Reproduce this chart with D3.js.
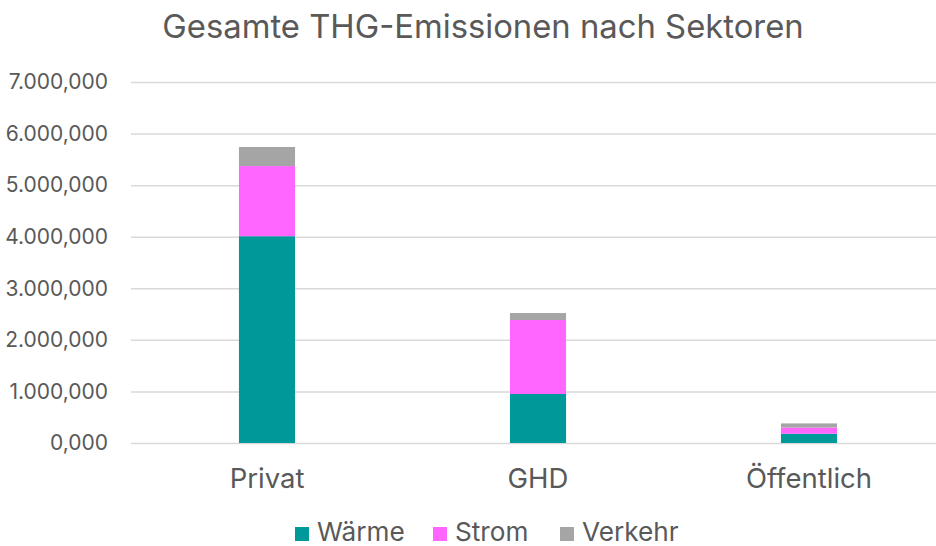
<!DOCTYPE html>
<html><head><meta charset="utf-8">
<script src="https://cdn.jsdelivr.net/npm/d3@7"></script>
<style>body{margin:0;background:#fff;} svg{display:block;}</style>
</head><body>
<svg id="c" width="936" height="546"></svg>
<script>
const categories = ["Privat", "GHD", "Öffentlich"];
const seriesNames = ["Wärme", "Strom", "Verkehr"];
const waerme = [4010, 950, 180];
const strom = [1360, 1435, 120];
const verkehr = [370, 135, 80];
const yTicks = [0, 1000, 2000, 3000, 4000, 5000, 6000, 7000];
const colors = ["#009999", "#FF66FF", "#A5A5A5"];
const title = "Gesamte THG-Emissionen nach Sektoren";

const font = "Inter, 'Noto Sans', sans-serif";
const textColor = "#595959";
const svg = d3.select("#c");
const W = 936, H = 546;
const x = d3.scaleBand().domain(categories).range([131.5, 944.5]).paddingInner(0.793).paddingOuter(0.3965);
const y = d3.scaleLinear().domain([0, 7000]).range([443, 82]);

const fmt = v => d3.format(",.3f")(v).replace(/,/g, "#").replace(/\./g, ",").replace(/#/g, ".");

svg.append("text").attr("x", 483).attr("y", 38).attr("text-anchor", "middle")
  .attr("font-family", font).attr("font-size", 32.8).attr("fill", textColor).text(title);

const yAxis = d3.axisLeft(y).tickValues(yTicks).tickSize(-(W - 131)).tickFormat(fmt).tickPadding(23);
const ga = svg.append("g").attr("transform", "translate(131,0)").call(yAxis);
ga.select(".domain").remove();
ga.selectAll(".tick line").attr("stroke", "#D9D9D9").attr("stroke-width", 1.5);
ga.selectAll(".tick text").attr("font-family", font).attr("font-size", 21).attr("fill", textColor);

const data = categories.map((c, i) => ({cat: c, "Wärme": waerme[i], "Strom": strom[i], "Verkehr": verkehr[i]}));
const stacked = d3.stack().keys(seriesNames)(data);
svg.append("g").selectAll("g").data(stacked).join("g").attr("fill", (d, i) => colors[i])
  .selectAll("rect").data(d => d).join("rect")
  .attr("x", d => x(d.data.cat)).attr("width", x.bandwidth())
  .attr("y", d => y(d[1])).attr("height", d => y(d[0]) - y(d[1]));

const xAxis = d3.axisBottom(x).tickSize(0).tickPadding(0);
const gx = svg.append("g").attr("transform", "translate(0,443)").call(xAxis);
gx.select(".domain").remove();
gx.selectAll(".tick text").attr("dy", null).attr("y", 45).attr("font-family", font).attr("font-size", 27.5).attr("fill", textColor);

const legendX = [295, 433, 560];
const lg = svg.append("g");
seriesNames.forEach((s, i) => {
  lg.append("rect").attr("x", legendX[i]).attr("y", 527).attr("width", 14).attr("height", 14).attr("fill", colors[i]);
  lg.append("text").attr("x", legendX[i] + 22).attr("y", 540.5).attr("font-family", font).attr("font-size", 26.2)
    .attr("fill", textColor).text(s);
});
</script>
</body></html>
